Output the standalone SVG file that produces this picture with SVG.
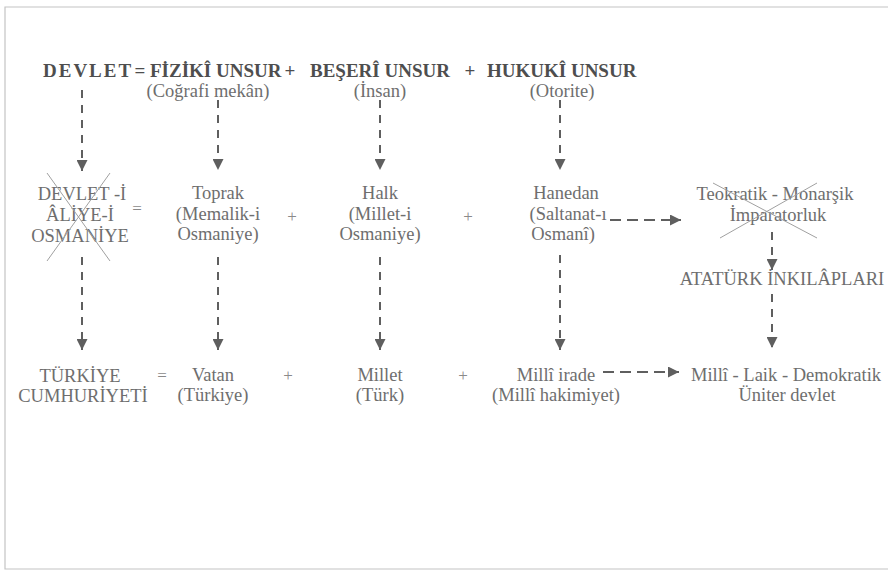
<svg xmlns="http://www.w3.org/2000/svg" width="888" height="572" viewBox="0 0 888 572">
<defs>
<style>
.t{font-family:"Liberation Serif","DejaVu Serif",serif;font-size:18.5px;fill:#6e6e6e;text-anchor:middle}
.h{font-family:"Liberation Serif","DejaVu Serif",serif;font-size:19px;font-weight:bold;fill:#4e4e4e}
.op{font-family:"Liberation Serif","DejaVu Serif",serif;font-size:17px;fill:#8a8a8a;text-anchor:middle}
.c{stroke:#5f5f5f;stroke-width:2;fill:none;stroke-dasharray:8 7;marker-end:url(#ah)}
.ch{stroke:#5f5f5f;stroke-width:2;fill:none;stroke-dasharray:11 6;marker-end:url(#ah)}
.x{stroke:#a0a0a0;stroke-width:1;fill:none}
.fr{stroke:#c4c4c4;stroke-width:1.2;fill:none}
</style>
<marker id="ah" viewBox="0 0 10 10" refX="10" refY="5" markerWidth="11" markerHeight="11" markerUnits="userSpaceOnUse" orient="auto"><path d="M0,0 L10,5 L0,10 z" fill="#5f5f5f"/></marker>
</defs>
<rect width="888" height="572" fill="#ffffff"/>
<path class="fr" d="M888,7 L5,7 L5,569 L888,569"/>

<g id="header">
<text class="h" x="43" y="77" letter-spacing="2">DEVLET</text>
<text class="h" x="140" y="77" text-anchor="middle" font-weight="normal">=</text>
<text class="h" x="150" y="77">FİZİKÎ UNSUR</text>
<text class="h" x="290" y="77" text-anchor="middle" font-weight="normal">+</text>
<text class="h" x="310" y="77">BEŞERÎ UNSUR</text>
<text class="h" x="470" y="77" text-anchor="middle" font-weight="normal">+</text>
<text class="h" x="487" y="77">HUKUKÎ UNSUR</text>
<text class="t" x="208" y="97">(Coğrafi mekân)</text>
<text class="t" x="380" y="97">(İnsan)</text>
<text class="t" x="562" y="97">(Otorite)</text>
</g>

<g id="devlet-i-aliye">
<text class="t" x="82" y="200">DEVLET -İ</text>
<text class="t" x="80" y="221">ÂLİYE-İ</text>
<text class="t" x="80" y="242">OSMANİYE</text>
<path class="x" d="M47,173 L110,261 M110,173 L47,261"/>
</g>
<text class="op" x="137" y="214">=</text>

<g id="toprak">
<text class="t" x="218" y="199">Toprak</text>
<text class="t" x="218" y="220">(Memalik-i</text>
<text class="t" x="218" y="240">Osmaniye)</text>
</g>
<text class="op" x="292" y="222">+</text>

<g id="halk">
<text class="t" x="380" y="199">Halk</text>
<text class="t" x="380" y="220">(Millet-i</text>
<text class="t" x="380" y="240">Osmaniye)</text>
</g>
<text class="op" x="468" y="222">+</text>

<g id="hanedan">
<text class="t" x="566" y="199">Hanedan</text>
<text class="t" x="568" y="220">(Saltanat-ı</text>
<text class="t" x="563" y="240">Osmanî)</text>
</g>

<g id="teokratik">
<text class="t" x="775" y="200">Teokratik - Monarşik</text>
<text class="t" x="778" y="221">İmparatorluk</text>
<path class="x" d="M720,238 L817,183 M713,183 L817,238"/>
</g>

<g id="inkilaplar">
<text class="t" x="782" y="285" font-size="19">ATATÜRK İNKILÂPLARI</text>
</g>

<g id="turkiye-cumhuriyeti">
<text class="t" x="80" y="382">TÜRKİYE</text>
<text class="t" x="83" y="402">CUMHURİYETİ</text>
</g>
<text class="op" x="162" y="381">=</text>

<g id="vatan">
<text class="t" x="213" y="381">Vatan</text>
<text class="t" x="213" y="401">(Türkiye)</text>
</g>
<text class="op" x="288" y="381">+</text>

<g id="millet">
<text class="t" x="380" y="381">Millet</text>
<text class="t" x="380" y="401">(Türk)</text>
</g>
<text class="op" x="463" y="381">+</text>

<g id="milli-irade">
<text class="t" x="556" y="381">Millî irade</text>
<text class="t" x="556" y="401">(Millî hakimiyet)</text>
</g>

<g id="milli-laik">
<text class="t" x="786" y="381">Millî - Laik - Demokratik</text>
<text class="t" x="787" y="401">Üniter devlet</text>
</g>

<g id="connectors">
<line class="c" x1="82" y1="90" x2="82" y2="171"/>
<line class="c" x1="218" y1="100" x2="218" y2="170"/>
<line class="c" x1="380" y1="100" x2="380" y2="170"/>
<line class="c" x1="560" y1="100" x2="560" y2="170"/>
<line class="c" x1="82" y1="257" x2="82" y2="350"/>
<line class="c" x1="218" y1="257" x2="218" y2="350"/>
<line class="c" x1="380" y1="257" x2="380" y2="350"/>
<line class="c" x1="560" y1="255" x2="560" y2="350"/>
<line class="ch" x1="610" y1="220" x2="681" y2="220"/>
<line class="c" x1="772" y1="232" x2="772" y2="270"/>
<line class="c" x1="772" y1="294" x2="772" y2="348"/>
<line class="ch" x1="603" y1="372" x2="679" y2="372"/>
</g>
</svg>
